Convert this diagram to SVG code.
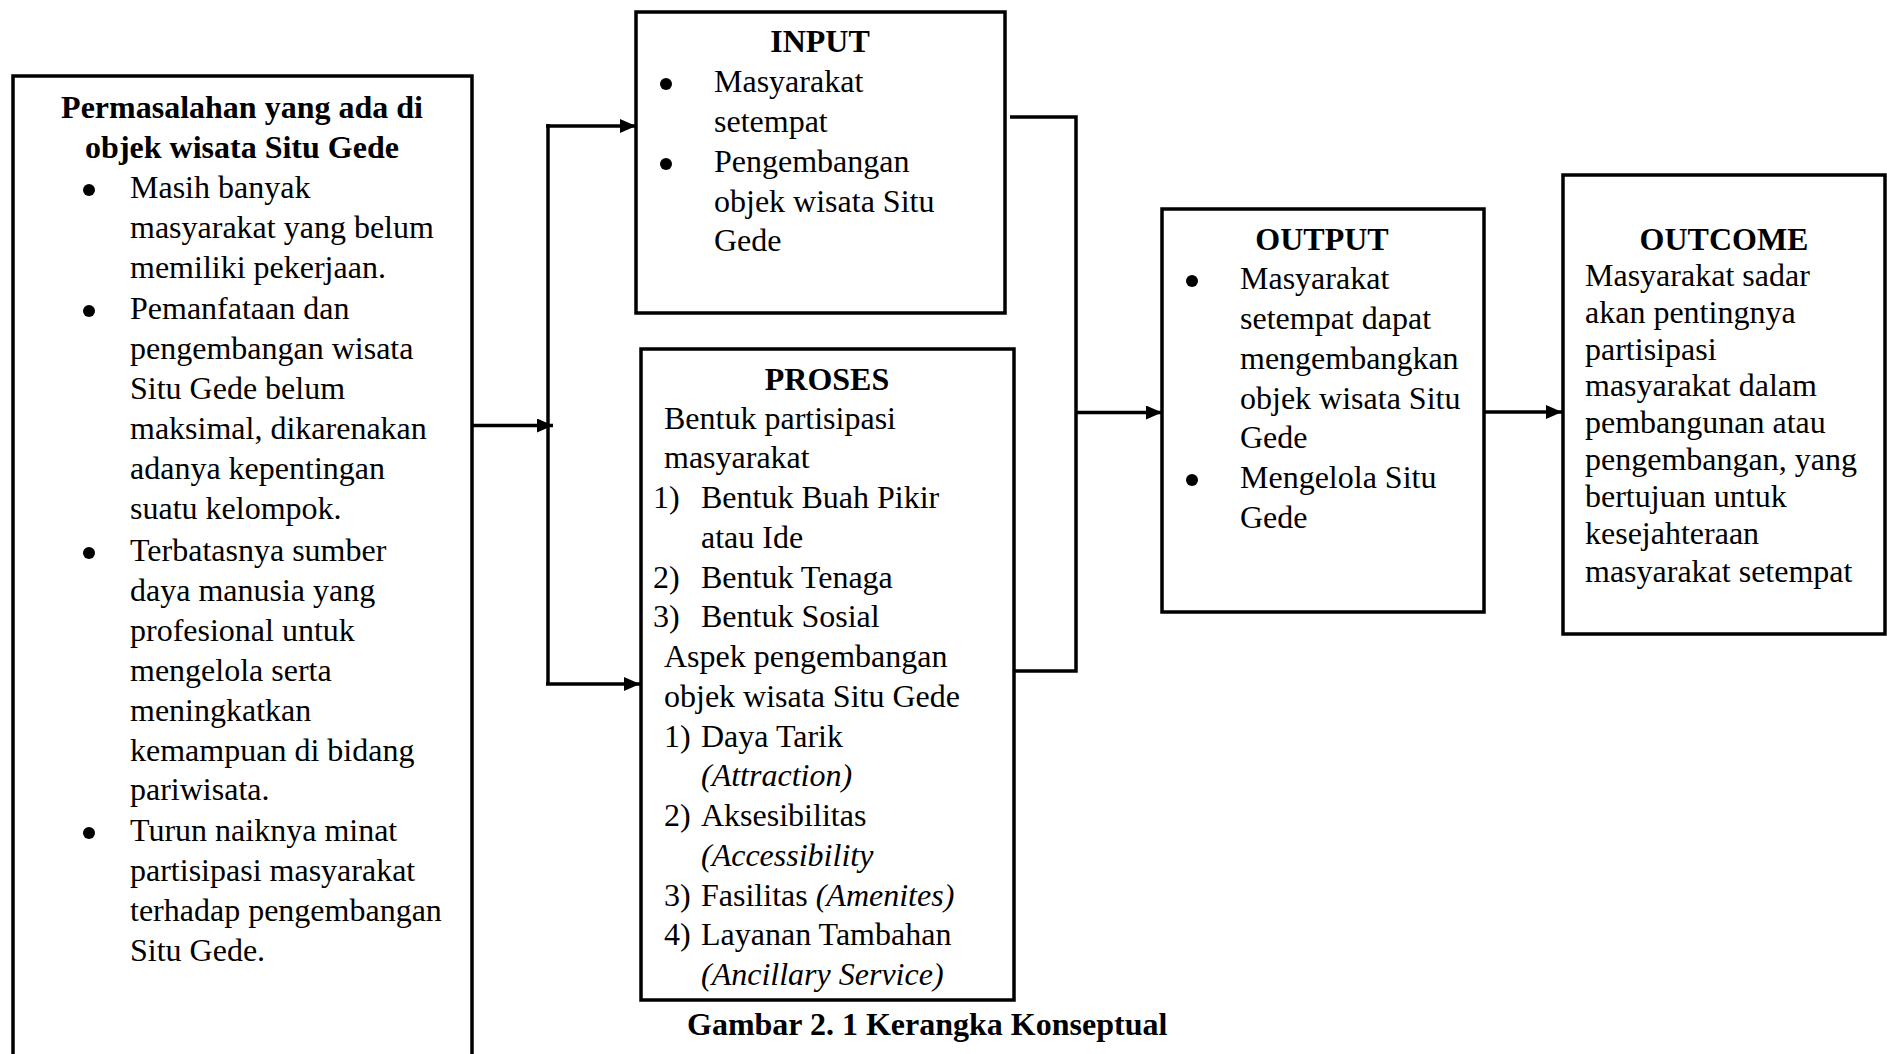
<svg xmlns="http://www.w3.org/2000/svg" width="1887" height="1054" viewBox="0 0 1887 1054">
<defs>
<style>
.box{fill:#fff;stroke:#000;stroke-width:3.5}
.t{font-family:"Liberation Serif","Times New Roman",serif;font-size:32px;fill:#000}
.b{font-weight:bold}
.i{font-style:italic}
.m{text-anchor:middle}
.ln{fill:none;stroke:#000;stroke-width:3.5}
.dot{fill:#000}
</style>
<marker id="ah" markerUnits="userSpaceOnUse" markerWidth="16" markerHeight="14" refX="16" refY="7" orient="auto">
<path d="M0,0 L16,7 L0,14 z" fill="#000"/>
</marker>
</defs>
<rect width="1887" height="1054" fill="#fff"/>

<g id="connectors">
<line class="ln" x1="472" y1="425.5" x2="553" y2="425.5" marker-end="url(#ah)"/>
<polyline class="ln" points="548,124 548,684"/>
<line class="ln" x1="546" y1="126" x2="636" y2="126" marker-end="url(#ah)"/>
<line class="ln" x1="546" y1="684" x2="640" y2="684" marker-end="url(#ah)"/>
<polyline class="ln" points="1010,117 1076,117 1076,671 1015,671"/>
<line class="ln" x1="1076" y1="412.5" x2="1162" y2="412.5" marker-end="url(#ah)"/>
<line class="ln" x1="1484" y1="412" x2="1562" y2="412" marker-end="url(#ah)"/>
</g>

<g id="problem">
<rect class="box" x="13" y="76" width="459" height="1000"/>
<text class="t b m" x="242" y="118">Permasalahan yang ada di</text>
<text class="t b m" x="242" y="158">objek wisata Situ Gede</text>
<circle class="dot" cx="89" cy="190" r="6"/>
<circle class="dot" cx="89" cy="311" r="6"/>
<circle class="dot" cx="89" cy="553" r="6"/>
<circle class="dot" cx="89" cy="833" r="6"/>
<text class="t" x="130" y="198">Masih banyak</text>
<text class="t" x="130" y="238">masyarakat yang belum</text>
<text class="t" x="130" y="278">memiliki pekerjaan.</text>
<text class="t" x="130" y="319">Pemanfataan dan</text>
<text class="t" x="130" y="359">pengembangan wisata</text>
<text class="t" x="130" y="399">Situ Gede belum</text>
<text class="t" x="130" y="439">maksimal, dikarenakan</text>
<text class="t" x="130" y="479">adanya kepentingan</text>
<text class="t" x="130" y="519">suatu kelompok.</text>
<text class="t" x="130" y="561">Terbatasnya sumber</text>
<text class="t" x="130" y="601">daya manusia yang</text>
<text class="t" x="130" y="641">profesional untuk</text>
<text class="t" x="130" y="681">mengelola serta</text>
<text class="t" x="130" y="721">meningkatkan</text>
<text class="t" x="130" y="761">kemampuan di bidang</text>
<text class="t" x="130" y="800">pariwisata.</text>
<text class="t" x="130" y="841">Turun naiknya minat</text>
<text class="t" x="130" y="881">partisipasi masyarakat</text>
<text class="t" x="130" y="921">terhadap pengembangan</text>
<text class="t" x="130" y="961">Situ Gede.</text>
</g>

<g id="input">
<rect class="box" x="636" y="12" width="369" height="301"/>
<text class="t b m" x="820" y="52">INPUT</text>
<circle class="dot" cx="666" cy="84" r="6"/>
<circle class="dot" cx="666" cy="164" r="6"/>
<text class="t" x="714" y="92">Masyarakat</text>
<text class="t" x="714" y="132">setempat</text>
<text class="t" x="714" y="172">Pengembangan</text>
<text class="t" x="714" y="212">objek wisata Situ</text>
<text class="t" x="714" y="251">Gede</text>
</g>

<g id="proses">
<rect class="box" x="641" y="349" width="373" height="651"/>
<text class="t b m" x="827" y="390">PROSES</text>
<text class="t" x="664" y="429">Bentuk partisipasi</text>
<text class="t" x="664" y="468">masyarakat</text>
<text class="t" x="653" y="508">1)</text><text class="t" x="701" y="508">Bentuk Buah Pikir</text>
<text class="t" x="701" y="548">atau Ide</text>
<text class="t" x="653" y="588">2)</text><text class="t" x="701" y="588">Bentuk Tenaga</text>
<text class="t" x="653" y="627">3)</text><text class="t" x="701" y="627">Bentuk Sosial</text>
<text class="t" x="664" y="667">Aspek pengembangan</text>
<text class="t" x="664" y="707">objek wisata Situ Gede</text>
<text class="t" x="664" y="747">1)</text><text class="t" x="701" y="747">Daya Tarik</text>
<text class="t i" x="701" y="786">(Attraction)</text>
<text class="t" x="664" y="826">2)</text><text class="t" x="701" y="826">Aksesibilitas</text>
<text class="t i" x="701" y="866">(Accessibility</text>
<text class="t" x="664" y="906">3)</text><text class="t" x="701" y="906">Fasilitas <tspan class="i">(Amenites)</tspan></text>
<text class="t" x="664" y="945">4)</text><text class="t" x="701" y="945">Layanan Tambahan</text>
<text class="t i" x="701" y="985">(Ancillary Service)</text>
</g>

<g id="output">
<rect class="box" x="1162" y="209" width="322" height="403"/>
<text class="t b m" x="1322" y="250">OUTPUT</text>
<circle class="dot" cx="1192" cy="281" r="6"/>
<circle class="dot" cx="1192" cy="480" r="6"/>
<text class="t" x="1240" y="289">Masyarakat</text>
<text class="t" x="1240" y="329">setempat dapat</text>
<text class="t" x="1240" y="369">mengembangkan</text>
<text class="t" x="1240" y="409">objek wisata Situ</text>
<text class="t" x="1240" y="448">Gede</text>
<text class="t" x="1240" y="488">Mengelola Situ</text>
<text class="t" x="1240" y="528">Gede</text>
</g>

<g id="outcome">
<rect class="box" x="1563" y="175" width="322" height="459"/>
<text class="t b m" x="1724" y="250">OUTCOME</text>
<text class="t" x="1585" y="286">Masyarakat sadar</text>
<text class="t" x="1585" y="323">akan pentingnya</text>
<text class="t" x="1585" y="360">partisipasi</text>
<text class="t" x="1585" y="396">masyarakat dalam</text>
<text class="t" x="1585" y="433">pembangunan atau</text>
<text class="t" x="1585" y="470">pengembangan, yang</text>
<text class="t" x="1585" y="507">bertujuan untuk</text>
<text class="t" x="1585" y="544">kesejahteraan</text>
<text class="t" x="1585" y="582">masyarakat setempat</text>
</g>

<g id="caption">
<text class="t b" x="687" y="1035">Gambar 2. 1 Kerangka Konseptual</text>
</g>
</svg>
